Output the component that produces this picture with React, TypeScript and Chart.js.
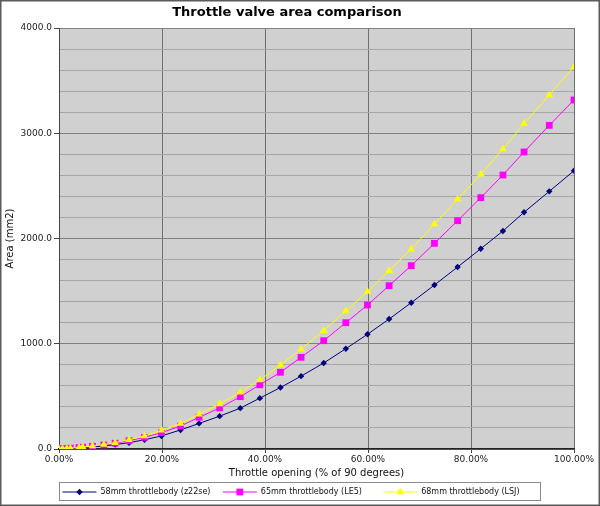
import React, { useEffect, useRef } from "react";
import { Chart, registerables } from "chart.js";

Chart.register(...registerables);

const TITLE = "Throttle valve area comparison";
const X_TITLE = "Throttle opening (% of 90 degrees)";
const Y_TITLE = "Area (mm2)";

const openingPct = [0, 0.7, 1.5, 2.2, 3.9, 4.6, 6.5, 8.7, 10.9, 13.6, 16.6, 19.9, 23.6, 27.2, 31.2, 35.2, 39.0, 43.0, 47.0, 51.4, 55.7, 59.9, 64.1, 68.4, 72.9, 77.4, 81.9, 86.2, 90.3, 95.2, 100];
const area58 = [0, 2, 4, 6, 10, 13, 20, 28, 42, 60, 88, 124, 181, 243, 312, 388, 483, 584, 692, 817, 953, 1090, 1235, 1390, 1558, 1729, 1903, 2071, 2249, 2448, 2644];
const area65 = [0, 3, 6, 8, 14, 17, 26, 38, 55, 79, 111, 155, 218, 301, 390, 497, 610, 729, 871, 1029, 1200, 1368, 1552, 1742, 1954, 2169, 2388, 2603, 2822, 3075, 3316];
const area68 = [0, 3, 6, 9, 15, 19, 29, 42, 60, 88, 124, 177, 241, 330, 428, 539, 656, 798, 948, 1124, 1311, 1495, 1694, 1900, 2138, 2372, 2610, 2850, 3091, 3363, 3632];

const seriesNames = ["58mm throttlebody (z22se)", "65mm throttlebody (LE5)", "68mm throttlebody (LSJ)"];
const seriesValues = [area58, area65, area68];
const seriesColors = ["#000080", "#ff00ff", "#ffff00"];
const seriesMarkers = ["rectRot", "rect", "triangle"];
const markerRadius = [3.2, 4.8, 4.4];

const FONT = "'DejaVu Sans', Verdana, sans-serif";

function drawMarker(ctx: CanvasRenderingContext2D, style: string, x: number, y: number, r: number, color: string) {
  ctx.save();
  ctx.fillStyle = color;
  ctx.beginPath();
  if (style === "rectRot") {
    ctx.moveTo(x, y - r);
    ctx.lineTo(x + r, y);
    ctx.lineTo(x, y + r);
    ctx.lineTo(x - r, y);
  } else if (style === "rect") {
    const s = Math.SQRT1_2 * r;
    ctx.rect(x - s, y - s, 2 * s, 2 * s);
  } else {
    const h = r * 1.5;
    const w = r * Math.sqrt(3) / 2;
    ctx.moveTo(x, y - r);
    ctx.lineTo(x + w, y - r + h);
    ctx.lineTo(x - w, y - r + h);
  }
  ctx.closePath();
  ctx.fill();
  ctx.restore();
}

const framePlugin = {
  id: "frameAndBg",
  beforeDraw(chart: any) {
    const { ctx, chartArea, width, height } = chart;
    ctx.save();
    ctx.fillStyle = "#ffffff";
    ctx.fillRect(0, 0, width, height);
    ctx.fillStyle = "#d0d0d0";
    ctx.fillRect(chartArea.left, chartArea.top, chartArea.right - chartArea.left, chartArea.bottom - chartArea.top);
    ctx.restore();
  },
  afterDraw(chart: any) {
    const { ctx, chartArea, width, height } = chart;
    ctx.save();
    // outer frame
    ctx.strokeStyle = "#5a5a5a";
    ctx.lineWidth = 1.5;
    ctx.strokeRect(0.75, 0.75, width - 1.5, height - 1.5);
    // legend box
    const left = chartArea.left + 0.5;
    const right = 540.5;
    const top = 482.5;
    const bottom = 500.5;
    ctx.fillStyle = "#ffffff";
    ctx.fillRect(left, top, right - left, bottom - top);
    ctx.strokeStyle = "#8a8a8a";
    ctx.lineWidth = 1;
    ctx.strokeRect(left, top, right - left, bottom - top);
    const colW = (right - left) / seriesNames.length;
    const cy = (top + bottom) / 2;
    ctx.font = `8px ${FONT}`;
    ctx.textBaseline = "middle";
    ctx.textAlign = "left";
    seriesNames.forEach((name, i) => {
      const x0 = left + colW * i + 3;
      const lineLen = 34;
      ctx.strokeStyle = seriesColors[i];
      ctx.lineWidth = 1;
      ctx.beginPath();
      ctx.moveTo(x0, cy + 0.5);
      ctx.lineTo(x0 + lineLen, cy + 0.5);
      ctx.stroke();
      drawMarker(ctx, seriesMarkers[i], x0 + lineLen / 2, cy + 0.5, markerRadius[i], seriesColors[i]);
      ctx.fillStyle = "#111111";
      ctx.fillText(name, x0 + lineLen + 4, cy + 0.5);
    });
    ctx.restore();
  },
};

export default function App() {
  const canvasRef = useRef<HTMLCanvasElement | null>(null);

  useEffect(() => {
    document.body.style.margin = "0";
    const canvas = canvasRef.current;
    if (!canvas) return;
    const datasets = seriesNames.map((name, i) => ({
      label: name,
      data: openingPct.map((x, j) => ({ x, y: seriesValues[i][j] })),
      borderColor: seriesColors[i],
      backgroundColor: seriesColors[i],
      borderWidth: 1,
      pointStyle: seriesMarkers[i] as any,
      pointRadius: markerRadius[i],
      pointBorderWidth: 0,
      pointBackgroundColor: seriesColors[i],
      tension: 0,
      order: 3 - i,
    }));
    const chart = new Chart(canvas, {
      type: "line",
      data: { datasets },
      plugins: [framePlugin],
      options: {
        animation: false,
        responsive: true,
        maintainAspectRatio: false,
        layout: { padding: { left: 0, right: 26, top: 0, bottom: 27 } },
        font: { family: FONT },
        plugins: {
          legend: { display: false },
          tooltip: { enabled: false },
          title: {
            display: true,
            text: TITLE,
            color: "#000000",
            font: { family: FONT, size: 13, weight: "bold" },
            padding: { top: 5, bottom: 7.4 },
          },
        },
        scales: {
          x: {
            type: "linear",
            min: 0,
            max: 100,
            afterFit: (scale: any) => {
              scale.height = 30;
            },
            ticks: {
              stepSize: 20,
              callback: (v: any) => Number(v).toFixed(2) + "%",
              color: "#222222",
              font: { family: FONT, size: 9 },
              padding: 1,
              maxRotation: 0,
            },
            grid: {
              color: "#6e6e6e",
              tickColor: "#444444",
              tickLength: 4,
              lineWidth: 1,
            },
            border: { display: true, color: "#222222", width: 1.5 },
            title: {
              display: true,
              text: X_TITLE,
              color: "#111111",
              font: { family: FONT, size: 10 },
              padding: { top: 0, bottom: 0 },
            },
          },
          y: {
            type: "linear",
            min: 0,
            max: 4000,
            afterFit: (scale: any) => {
              scale.width = 59;
            },
            ticks: {
              stepSize: 200,
              autoSkip: false,
              callback: (v: any) => (Number(v) % 1000 === 0 ? Number(v).toFixed(1) : ""),
              color: "#222222",
              font: { family: FONT, size: 9 },
              padding: 2,
            },
            grid: {
              color: (c: any) => (c.tick && c.tick.value % 1000 === 0 ? "#808080" : "#a6a6a6"),
              tickColor: (c: any) => (c.tick && c.tick.value % 1000 === 0 ? "#444444" : "rgba(0,0,0,0)"),
              tickLength: 5,
              lineWidth: 1,
            },
            border: { display: true, color: "#444444", width: 1 },
            title: {
              display: true,
              text: Y_TITLE,
              color: "#111111",
              font: { family: FONT, size: 10 },
              padding: { top: 4, bottom: 0 },
            },
          },
        },
      } as any,
    });
    return () => chart.destroy();
  }, []);

  return (
    <div style={{ position: "relative", width: 600, height: 506 }}>
      <canvas ref={canvasRef} />
    </div>
  );
}
